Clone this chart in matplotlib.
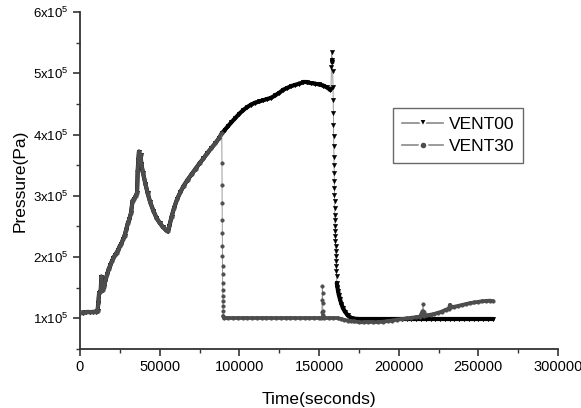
import matplotlib
matplotlib.use("Agg")
import matplotlib.pyplot as plt
from matplotlib.lines import Line2D
from matplotlib.collections import LineCollection
from matplotlib.ticker import MultipleLocator, FixedLocator
import numpy as np

plt.rcParams['font.family'] = ['Liberation Sans', 'DejaVu Sans']
plt.rcParams['mathtext.fontset'] = 'custom'
plt.rcParams['mathtext.rm'] = 'Liberation Sans'

# ---- data (time in s, pressure in 1e5 Pa) ----
t_common = [0, 2000, 4000, 6000, 8000, 10000, 11000, 11500, 12000, 12500, 13000,
            13400, 13800, 14200, 15000, 16000, 17000, 18000, 19000, 20000, 21000,
            22000, 23000, 24000, 25000, 26000, 27000, 28000, 29000, 30000, 31000,
            32000, 33000, 34000, 35000, 35800, 36200, 36600, 37000, 37500, 38000,
            38500, 39500, 41000, 42500, 44000, 46000, 48000, 50000, 52000, 54000,
            55000, 56000, 57500, 59000, 61000, 63000, 65000, 67500, 70000, 72500,
            75000, 77500, 80000, 82500, 85000, 87500, 89000]
p_common = [1.09, 1.095, 1.10, 1.10, 1.105, 1.11, 1.12, 1.25, 1.42, 1.43, 1.45,
            1.68, 1.55, 1.47, 1.52, 1.62, 1.72, 1.80, 1.87, 1.93, 1.99,
            2.03, 2.07, 2.12, 2.18, 2.22, 2.29, 2.35, 2.45, 2.55, 2.62,
            2.72, 2.92, 2.95, 3.00, 3.05, 3.40, 3.58, 3.72, 3.62, 3.66,
            3.52, 3.38, 3.20, 3.04, 2.90, 2.76, 2.64, 2.56, 2.49, 2.44,
            2.42, 2.50, 2.66, 2.80, 2.95, 3.06, 3.16, 3.26, 3.35, 3.44,
            3.53, 3.61, 3.70, 3.78, 3.86, 3.95, 4.02]

t_vent00_tail = [91000, 93000, 95000, 97500, 100000, 102500, 105000, 107500, 110000,
                 112500, 115000, 117500, 120000, 122500, 125000, 127500, 130000,
                 132500, 135000, 137500, 140000, 142500, 145000, 147500, 150000,
                 152500, 155000, 157000, 157500, 157800, 158000, 158200, 158400,
                 158600, 158800,
                 158900, 159000, 159100, 159200, 159300, 159400, 159450, 159500,
                 159600, 159650, 159700, 159800, 159850, 159900, 160000, 160100,
                 160150, 160250, 160350, 160450, 160550, 160650, 160750, 160850,
                 160950, 161050, 161150,
                 161500, 162000, 162500, 163200, 164000, 165000, 166300, 168000,
                 170000, 172000, 175000, 178000, 181000, 184000, 187000, 190000,
                 193000, 196000, 199000, 202000, 205000, 208000, 211000, 214000,
                 217000, 220000, 223000, 226000, 229000, 232000, 235000, 238000,
                 241000, 244000, 247000, 250000, 253000, 256000, 259000]
p_vent00_tail = [4.08, 4.14, 4.20, 4.27, 4.34, 4.40, 4.45, 4.49, 4.52,
                 4.54, 4.56, 4.58, 4.60, 4.64, 4.68, 4.73, 4.76,
                 4.79, 4.81, 4.83, 4.85, 4.85, 4.84, 4.83, 4.82,
                 4.80, 4.77, 4.73, 4.75, 5.10, 5.35, 5.22, 5.18,
                 5.03, 4.78,
                 4.57, 4.35, 4.16, 3.97, 3.81, 3.64, 3.51, 3.37,
                 3.24, 3.13, 3.02, 2.91, 2.80, 2.69, 2.61, 2.50,
                 2.42, 2.34, 2.26, 2.18, 2.10, 2.01, 1.93, 1.85,
                 1.77, 1.69, 1.58,
                 1.52, 1.44, 1.38, 1.31, 1.24, 1.17, 1.11, 1.05,
                 1.01, 0.995, 0.99, 0.99, 0.99, 0.99, 0.99, 0.99,
                 0.99, 0.99, 0.99, 0.99, 0.99, 0.99, 0.99, 0.99,
                 0.99, 0.99, 0.99, 0.99, 0.99, 0.99, 0.99, 0.99,
                 0.99, 0.99, 0.99, 0.99, 0.99, 0.99, 0.99]

t_vent30_tail = [89100, 89150, 89200, 89250, 89300, 89350, 89400, 89450, 89500,
                 89550, 89600, 89650, 89700, 89750, 89800, 89850,
                 90500, 93000, 96000, 99000, 102000, 105000, 108000, 111000,
                 114000, 117000, 120000, 123000, 126000, 129000, 132000, 135000,
                 138000, 141000, 144000, 147000, 150000,
                 151500, 151800, 152000, 152100, 152200, 152300, 152400, 152600,
                 153000, 156000, 159000, 162000, 164000, 166000, 168000, 170000,
                 172000, 175000, 178000, 181000, 184000, 187000, 190000, 193000,
                 196000, 199000, 202000, 205000, 208000, 211000, 213500, 215000,
                 215300, 215600, 216000, 218000, 220000, 222000, 224500, 227000,
                 229500, 231500, 232200, 233000, 235000, 237500, 240000, 242500,
                 245000, 247500, 250000, 252500, 255000, 257500, 259500]
p_vent30_tail = [3.54, 3.18, 2.88, 2.61, 2.40, 2.18, 2.01, 1.85, 1.72,
                 1.58, 1.47, 1.36, 1.28, 1.20, 1.12, 1.04,
                 1.00, 1.00, 1.00, 1.00, 1.00, 1.00, 1.00, 1.00,
                 1.00, 1.00, 1.00, 1.00, 1.00, 1.00, 1.00, 1.00,
                 1.00, 1.00, 1.00, 1.00, 1.00,
                 1.00, 1.10, 1.30, 1.53, 1.42, 1.25, 1.12, 1.05,
                 1.00, 1.00, 1.00, 1.00, 0.99, 0.975, 0.965, 0.955,
                 0.95, 0.94, 0.935, 0.935, 0.935, 0.94, 0.945, 0.955,
                 0.965, 0.98, 0.99, 1.00, 1.01, 1.02, 1.03, 1.12,
                 1.23, 1.10, 1.04, 1.05, 1.06, 1.07, 1.09, 1.11,
                 1.14, 1.16, 1.22, 1.18, 1.19, 1.205, 1.22, 1.235,
                 1.25, 1.26, 1.27, 1.28, 1.285, 1.29, 1.29]

series_names = ["VENT00", "VENT30"]
y_ticks = [1, 2, 3, 4, 5, 6]
y_tick_labels = [r"$\mathregular{%dx10^{5}}$" % v for v in y_ticks]
x_ticks = [0, 50000, 100000, 150000, 200000, 250000, 300000]

t00 = np.array(t_common + t_vent00_tail, dtype=float)
p00 = np.array(p_common + p_vent00_tail) * 1e5
t30 = np.array(t_common + t_vent30_tail, dtype=float)
p30 = np.array(p_common + p_vent30_tail) * 1e5

fig = plt.figure(figsize=(5.81, 4.08), dpi=100)
ax = fig.add_axes([80/581, 1-349/408, (558-80)/581, (349-12)/408])


def draw_series(t, p, color, marker, ms, lw, z):
    pts = np.column_stack([t, p])
    segs = np.stack([pts[:-1], pts[1:]], axis=1)
    # sparse (fast transient) stretches: thin connector, separate markers
    sparse = (np.diff(t) <= 300) & (np.abs(np.diff(p)) > 0.05e5)
    widths = np.where(sparse, 0.6, lw)
    colors = [("#8a8a8a" if b else color) for b in sparse]
    lc = LineCollection(segs, linewidths=widths, colors=colors, zorder=z,
                        capstyle="round", joinstyle="round")
    ax.add_collection(lc)
    ax.plot(t, p, ls="none", marker=marker, ms=ms, color=color, mec=color,
            mew=0.3, zorder=z + 0.5)


c00 = "#000000"
c30 = "#4d4d4d"
draw_series(t00, p00, c00, "v", 3.2, 3.0, 2)
draw_series(t30, p30, c30, "o", 2.6, 2.7, 4)

ax.set_xlim(0, 300000)
ax.set_ylim(0.5e5, 6e5)
ax.xaxis.set_major_locator(FixedLocator(x_ticks))
ax.xaxis.set_minor_locator(MultipleLocator(25000))
ax.set_xticklabels([str(v) for v in x_ticks], fontsize=10.5)
ax.yaxis.set_major_locator(FixedLocator([v * 1e5 for v in y_ticks]))
ax.yaxis.set_minor_locator(MultipleLocator(0.5e5))
ax.set_yticklabels(y_tick_labels, fontsize=9.5)

for s in ["top", "right"]:
    ax.spines[s].set_visible(False)
for s in ["left", "bottom"]:
    ax.spines[s].set_linewidth(1.3)
    ax.spines[s].set_color("#333333")
ax.tick_params(which="major", direction="out", length=5, width=1.2, color="#333333", pad=3)
ax.tick_params(which="minor", direction="out", length=3, width=1.0, color="#333333")

ax.set_xlabel("Time(seconds)", fontsize=12.5, labelpad=13)
ax.set_ylabel("Pressure(Pa)", fontsize=12.5, labelpad=4)

handles = [
    Line2D([], [], color="#8a8a8a", lw=1.2, marker="v", ms=6, mfc=c00, mec="white", mew=1.5),
    Line2D([], [], color="#8a8a8a", lw=1.2, marker="o", ms=5.5, mfc=c30, mec="white", mew=1.5),
]
leg = ax.legend(handles, series_names, loc="upper left",
                bbox_to_anchor=(393/581, 1-108/408), bbox_transform=fig.transFigure,
                fontsize=12.5, frameon=True, fancybox=False, handlelength=2.4,
                handletextpad=0.3, borderpad=0.5, labelspacing=0.4, borderaxespad=0)
leg.get_frame().set_edgecolor("#444444")
leg.get_frame().set_linewidth(1.0)

fig.savefig("out.png", dpi=100)
